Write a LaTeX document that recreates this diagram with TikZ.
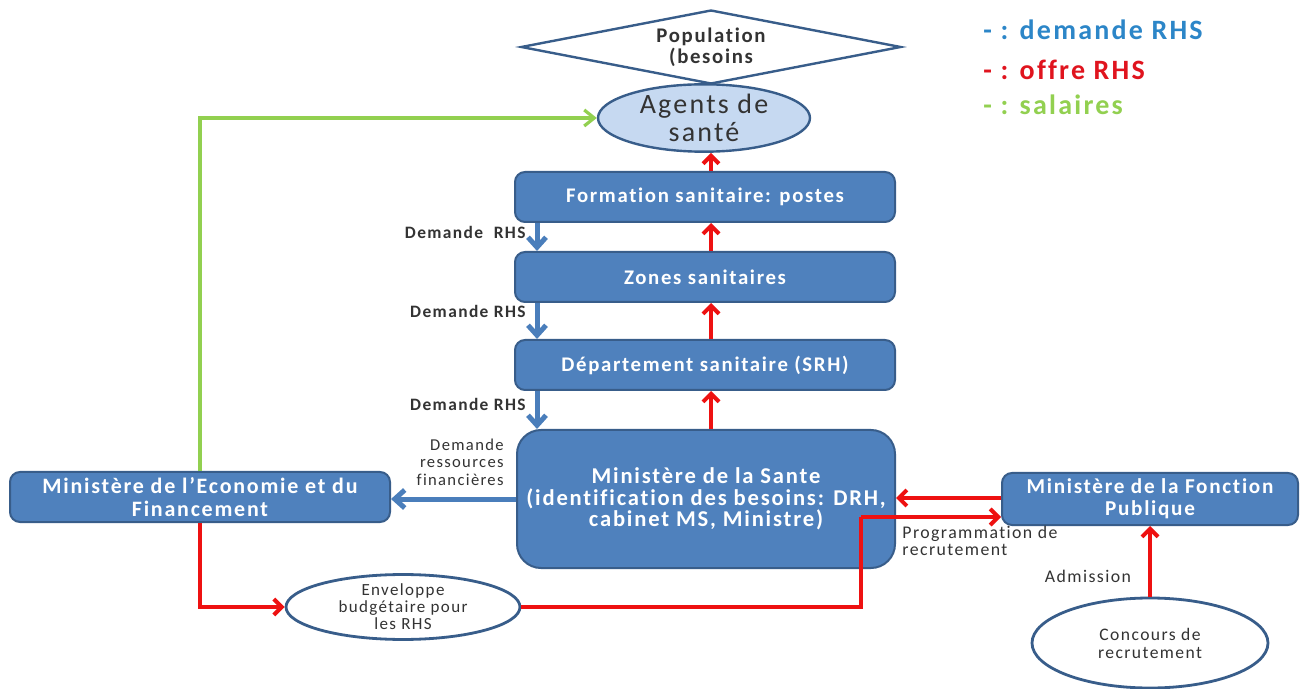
\documentclass[tikz,border=0pt]{standalone}
\usepackage{fontspec}
\setmainfont{Carlito}[LetterSpace=8,Ligatures=NoCommon]
\usetikzlibrary{shapes.geometric,arrows.meta,calc}
\definecolor{boxfill}{HTML}{4F81BD}
\definecolor{boxline}{HTML}{385D8A}
\definecolor{bluearr}{HTML}{4A7EBB}
\definecolor{redarr}{HTML}{EE1111}
\definecolor{greenarr}{HTML}{92D050}
\definecolor{lightblue}{HTML}{C6D9F1}
\definecolor{txt}{HTML}{333333}
\definecolor{legblue}{HTML}{2C86C8}
\definecolor{legred}{HTML}{E0141E}
\tikzset{
  bluebox/.style={draw=boxline, line width=1pt, fill=boxfill, rounded corners=5pt,
    text=white, font=\fontsize{10.4}{11.5}\selectfont\bfseries, align=center, inner sep=0pt},
  ellnode/.style={ellipse, draw=boxline, line width=1.4pt, fill=white, inner sep=0pt, align=center},
  bluearrow/.style={draw=bluearr, line width=2.5pt, -{Straight Barb[length=5pt,width=9pt]}},
  redarrow/.style={draw=redarr, line width=2pt, -{Straight Barb[length=4pt,width=8pt]}},
  redline/.style={draw=redarr, line width=2pt},
  greenarrow/.style={draw=greenarr, line width=1.6pt, -{Straight Barb[length=5pt,width=8pt]}},
  lbl/.style={text=txt, font=\fontsize{8.7}{8.5}\selectfont\bfseries, inner sep=0pt},
  leg/.style={font=\fontsize{14}{15}\selectfont\bfseries, anchor=west, inner sep=0pt}
}
\begin{document}
\begin{tikzpicture}[x=0.5pt,y=-0.5pt]
\useasboundingbox (0,0) rectangle (1301,689);
\fill[white] (0,0) rectangle (1301,689);

% Legend
\node[leg, text=legblue] (l1) at (983,30) {- : demande RHS};
\node[leg, text=legred] (l2) at (983,70) {- : offre RHS};
\node[leg, text=greenarr] (l3) at (983,105) {- : salaires};

% Nodes
\node[diamond, draw=boxline, line width=1.2pt, fill=white, aspect=5.2, minimum width=190pt, minimum height=37pt, inner sep=0pt,
  align=center, text=txt, font=\fontsize{10.4}{10.5}\selectfont\bfseries] (pop) at (711,47) {Population\\(besoins};
\node[ellnode, fill=lightblue, line width=1.2pt, minimum width=106pt, minimum height=33pt, text=txt,
  font=\fontsize{14}{14}\selectfont] (agents) at (704,118) {Agents de\\santé};
\node[bluebox, minimum width=190pt, minimum height=25pt] (form) at (705,197) {Formation sanitaire: postes};
\node[bluebox, minimum width=190pt, minimum height=25pt] (zones) at (705,277) {Zones sanitaires};
\node[bluebox, minimum width=190pt, minimum height=25pt] (dept) at (705,365) {Département sanitaire (SRH)};
\node[bluebox, minimum width=189pt, minimum height=69pt, rounded corners=12pt,
  font=\fontsize{11.3}{10.7}\selectfont\bfseries] (sante) at (706,499)
  {Ministère de la Sante\\(identification des besoins: DRH,\\cabinet MS, Ministre)};
\node[bluebox, minimum width=190pt, minimum height=25pt, font=\fontsize{11}{11.5}\selectfont\bfseries] (econ) at (200,497) {Ministère de l’Economie et du\\Financement};
\node[bluebox, minimum width=148pt, minimum height=26pt, font=\fontsize{10.6}{11}\selectfont\bfseries] (fonc) at (1150,499) {Ministère de la Fonction\\Publique};
\node[ellnode, minimum width=117pt, minimum height=31pt, text=txt,
  font=\fontsize{8.5}{8.5}\selectfont] (env) at (403,607) {Enveloppe\\budgétaire pour\\les RHS};
\node[ellnode, minimum width=118pt, minimum height=45pt, text=txt,
  font=\fontsize{8.8}{9}\selectfont] (conc) at (1150,643) {Concours de\\recrutement};

% Labels
\node[lbl, anchor=east] (d1) at (526,232) {Demande\ \ RHS};
\node[lbl, anchor=east] (d2) at (526,311) {Demande RHS};
\node[lbl, anchor=east] (d3) at (526,404) {Demande RHS};
\node[lbl, anchor=east, align=right, font=\fontsize{8.3}{8.7}\selectfont] (drf) at (504,462) {Demande\\ressources\\financières};
\node[lbl, anchor=west, align=left, font=\fontsize{8.9}{8.5}\selectfont] (prog) at (902,541) {Programmation de\\recrutement};
\node[lbl, font=\fontsize{8.9}{8.6}\selectfont] (adm) at (1088,576) {Admission};

% Red upward (offre)
\draw[redarrow] ([xshift=3pt]form.north) -- ([xshift=3pt]form.north |- agents.south);
\draw[redarrow] ([xshift=3pt]zones.north) -- ([xshift=3pt]form.south);
\draw[redarrow] ([xshift=3pt]dept.north) -- ([xshift=3pt]zones.south);
\draw[redarrow] ([xshift=3pt]dept.south |- sante.north) -- ([xshift=3pt]dept.south);

% Blue downward (demande)
\draw[bluearrow] ([xshift=-84pt]form.south) -- ([xshift=-84pt]zones.north);
\draw[bluearrow] ([xshift=-84pt]zones.south) -- ([xshift=-84pt]dept.north);
\draw[bluearrow] ([xshift=-84pt]dept.south) -- ([xshift=-84pt]dept.south |- sante.north);
\draw[bluearrow] (sante.west) -- (sante.west -| econ.east);

% Green (salaires)
\draw[greenarrow] (econ.north) |- (agents.west);

% Red lower
\draw[redarrow] (econ.south) |- (env.west);
\coordinate (c1) at (861,517);
\draw[redline] (env.east) -| (c1);
\draw[redarrow] (c1) -- (c1 -| fonc.west);
\draw[redarrow] ([yshift=0.5pt]fonc.west) -- ([yshift=0.5pt]fonc.west -| sante.east);
\draw[redarrow] (conc.north) -- (fonc.south);
\end{tikzpicture}
\end{document}
